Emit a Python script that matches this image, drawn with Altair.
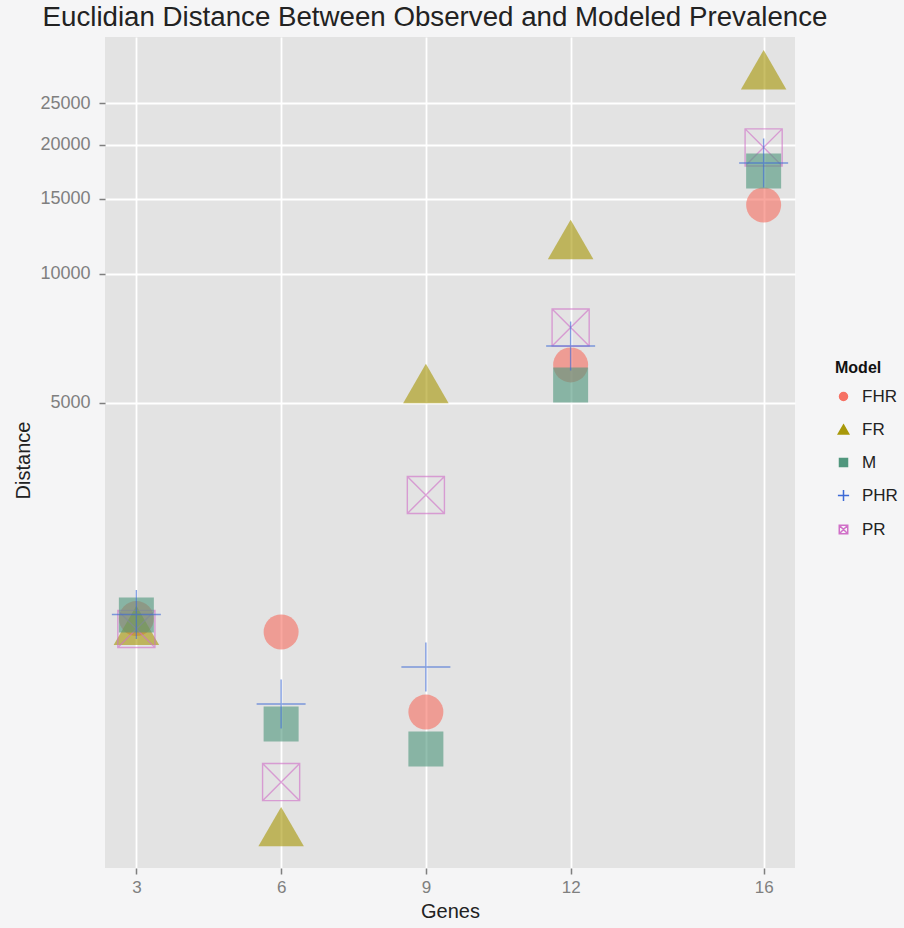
import altair as alt
import pandas as pd

genes = [3, 6, 9, 12, 16]
models = ["FHR", "FR", "M", "PHR", "PR"]
fhr = [1570, 1461, 950, 6135, 14490]
fr = [1510, 512, 5540, 12010, 29900]
m_vals = [1600, 891, 779, 5510, 17400]
phr = [1605, 992, 1210, 6790, 18150]
pr = [1485, 652, 3050, 7500, 19740]
y_ticks = [5000, 10000, 15000, 20000, 25000]

series = {"FHR": fhr, "FR": fr, "M": m_vals, "PHR": phr, "PR": pr}
draw_order = ["FHR", "FR", "PR", "M", "PHR"]

rows = []
for mdl in draw_order:
    for g, v in zip(genes, series[mdl]):
        rows.append({"Genes": g, "Distance": v, "Model": mdl})
df = pd.DataFrame(rows)

stroke_cols = ["#F67164", "#A8980A", "#51977E", "#3D6AD6", "#D070C8"]
fill_cols = ["#F67164", "#A8980A", "#51977E", "transparent", "transparent"]
shapes = [
    "circle",
    "M0,-1.15L1.3,1.1L-1.3,1.1Z",
    "square",
    "M-1.4,0H1.4M0,-1.4V1.4",
    "M-1.06,-1.06H1.06V1.06H-1.06ZM-1.06,-1.06L1.06,1.06M1.06,-1.06L-1.06,1.06",
]

legend = alt.Legend(
    title="Model", orient="none", legendX=730, legendY=323,
    titleFontSize=16, titleFontWeight="bold", titleColor="#111",
    titleFont="Liberation Sans", labelFont="Liberation Sans",
    labelFontSize=17, labelColor="#222", symbolSize=64,
    symbolOpacity=1, rowPadding=15, titlePadding=12, labelOffset=10,
    symbolStrokeWidth=1.5,
)

chart = alt.Chart(df).mark_point(filled=False, size=1225, opacity=0.62).encode(
    x=alt.X("Genes:Q",
            scale=alt.Scale(domain=[2.35, 16.65], nice=False, zero=False),
            axis=alt.Axis(values=genes, title="Genes", format="d")),
    y=alt.Y("Distance:Q",
            scale=alt.Scale(type="log", domain=[411, 35730], nice=False),
            axis=alt.Axis(values=y_ticks, title="Distance", format="d",
                          titleX=-72, titleY=423)),
    color=alt.Color("Model:N", scale=alt.Scale(domain=models, range=stroke_cols), legend=legend),
    fill=alt.Fill("Model:N", scale=alt.Scale(domain=models, range=fill_cols), legend=legend),
    shape=alt.Shape("Model:N", scale=alt.Scale(domain=models, range=shapes), legend=legend),
    strokeWidth=alt.condition(
        alt.FieldOneOfPredicate(field="Model", oneOf=["PHR", "PR"]),
        alt.value(1.4), alt.value(0)),
).properties(
    width=690, height=831,
    autosize=alt.AutoSizeParams(type="none"),
    padding={"left": 105, "top": 37, "right": 109, "bottom": 60},
    title=alt.TitleParams(
        text="Euclidian Distance Between Observed and Modeled Prevalence",
        fontSize=27.7, font="Liberation Sans", fontWeight="normal",
        color="#222", anchor="middle", offset=5, frame="group", dx=-15),
).configure(
    background="#F5F5F6",
).configure_view(
    fill="#E3E3E3", stroke=None,
).configure_axis(
    grid=True, gridColor="#FFFFFF", gridWidth=1.8, domain=False,
    tickColor="#7F7F7F", tickSize=6, tickWidth=1.5,
    labelColor="#7F7F7F", labelFontSize=17, labelFont="Liberation Sans",
    titleFont="Liberation Sans", titleFontSize=20, titleFontWeight="normal",
    titleColor="#222",
).configure_axisX(
    labelPadding=5, titlePadding=6,
).configure_axisY(
    labelPadding=9, labelFontSize=18,
)

chart.save("out.html", embed_options={"renderer": "svg", "actions": False})
